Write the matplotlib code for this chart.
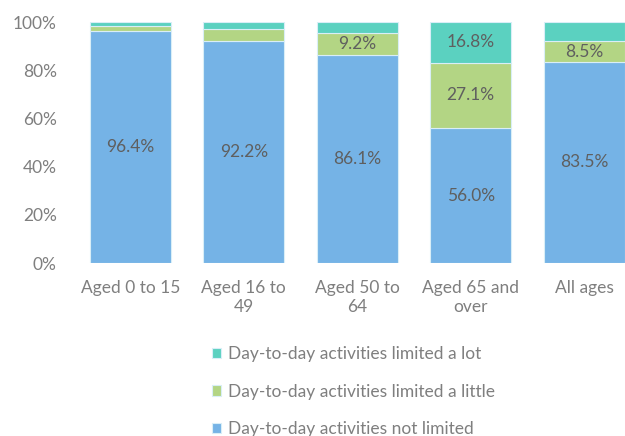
import matplotlib
matplotlib.use('Agg')
import matplotlib.pyplot as plt
import numpy as np

categories = ['Aged 0 to 15', 'Aged 16 to\n49', 'Aged 50 to\n64', 'Aged 65 and\nover', 'All ages']
not_limited = [96.4, 92.2, 86.1, 56.0, 83.5]
limited_little = [1.9, 5.1, 9.2, 27.1, 8.5]
limited_lot = [1.7, 2.7, 4.7, 16.8, 8.0]
# which segments carry a data label
show_little = [False, False, True, True, True]
show_lot = [False, False, False, True, False]

plt.rcParams['font.family'] = ['Lato', 'DejaVu Sans']

fig = plt.figure(figsize=(6.25, 4.36), dpi=100)
ax = fig.add_axes([73.5 / 625, 173 / 436, 567.5 / 625, 241 / 436])

x = np.arange(len(categories))
w = 0.71
blue = '#75B3E6'
green = '#B3D584'
teal = '#5BD1C0'
edge = '#D9EEF7'

b1 = ax.bar(x, not_limited, w, color=blue, edgecolor=edge, linewidth=0.8,
            label='Day-to-day activities not limited')
b2 = ax.bar(x, limited_little, w, bottom=not_limited, color=green, edgecolor=edge, linewidth=0.8,
            label='Day-to-day activities limited a little')
bot3 = [a + b for a, b in zip(not_limited, limited_little)]
b3 = ax.bar(x, limited_lot, w, bottom=bot3, color=teal, edgecolor=edge, linewidth=0.8,
            label='Day-to-day activities limited a lot')

lab_col = '#5F5F5F'
fs = 12.5
for i in range(len(categories)):
    ax.text(x[i], not_limited[i] / 2, f'{not_limited[i]:.1f}%', ha='center', va='center',
            fontsize=fs, color=lab_col)
    if show_little[i]:
        ax.text(x[i], not_limited[i] + limited_little[i] / 2, f'{limited_little[i]:.1f}%',
                ha='center', va='center', fontsize=fs, color=lab_col)
    if show_lot[i]:
        ax.text(x[i], bot3[i] + limited_lot[i] / 2, f'{limited_lot[i]:.1f}%',
                ha='center', va='center', fontsize=fs, color=lab_col)

ax.set_xlim(-0.5, 4.5)
ax.set_ylim(0, 100)
ax.set_yticks(range(0, 101, 20))
ax.set_yticklabels([f'{v}%' for v in range(0, 101, 20)])
ax.set_xticks(x)
ax.set_xticklabels(categories, linespacing=1.25)
ax.tick_params(axis='both', length=0, labelsize=fs, colors='#7F7F7F')
ax.tick_params(axis='y', pad=12)
ax.tick_params(axis='x', pad=12)
for s in ax.spines.values():
    s.set_visible(False)

fig.legend(handles=[b3, b2, b1], loc='upper left', bbox_to_anchor=(205 / 625, 1 - 339 / 436),
           frameon=False, fontsize=fs, labelcolor='#7F7F7F', handlelength=0.55, handleheight=0.55,
           handletextpad=0.35, labelspacing=1.25, borderaxespad=0)

fig.savefig('out.png', dpi=100)
